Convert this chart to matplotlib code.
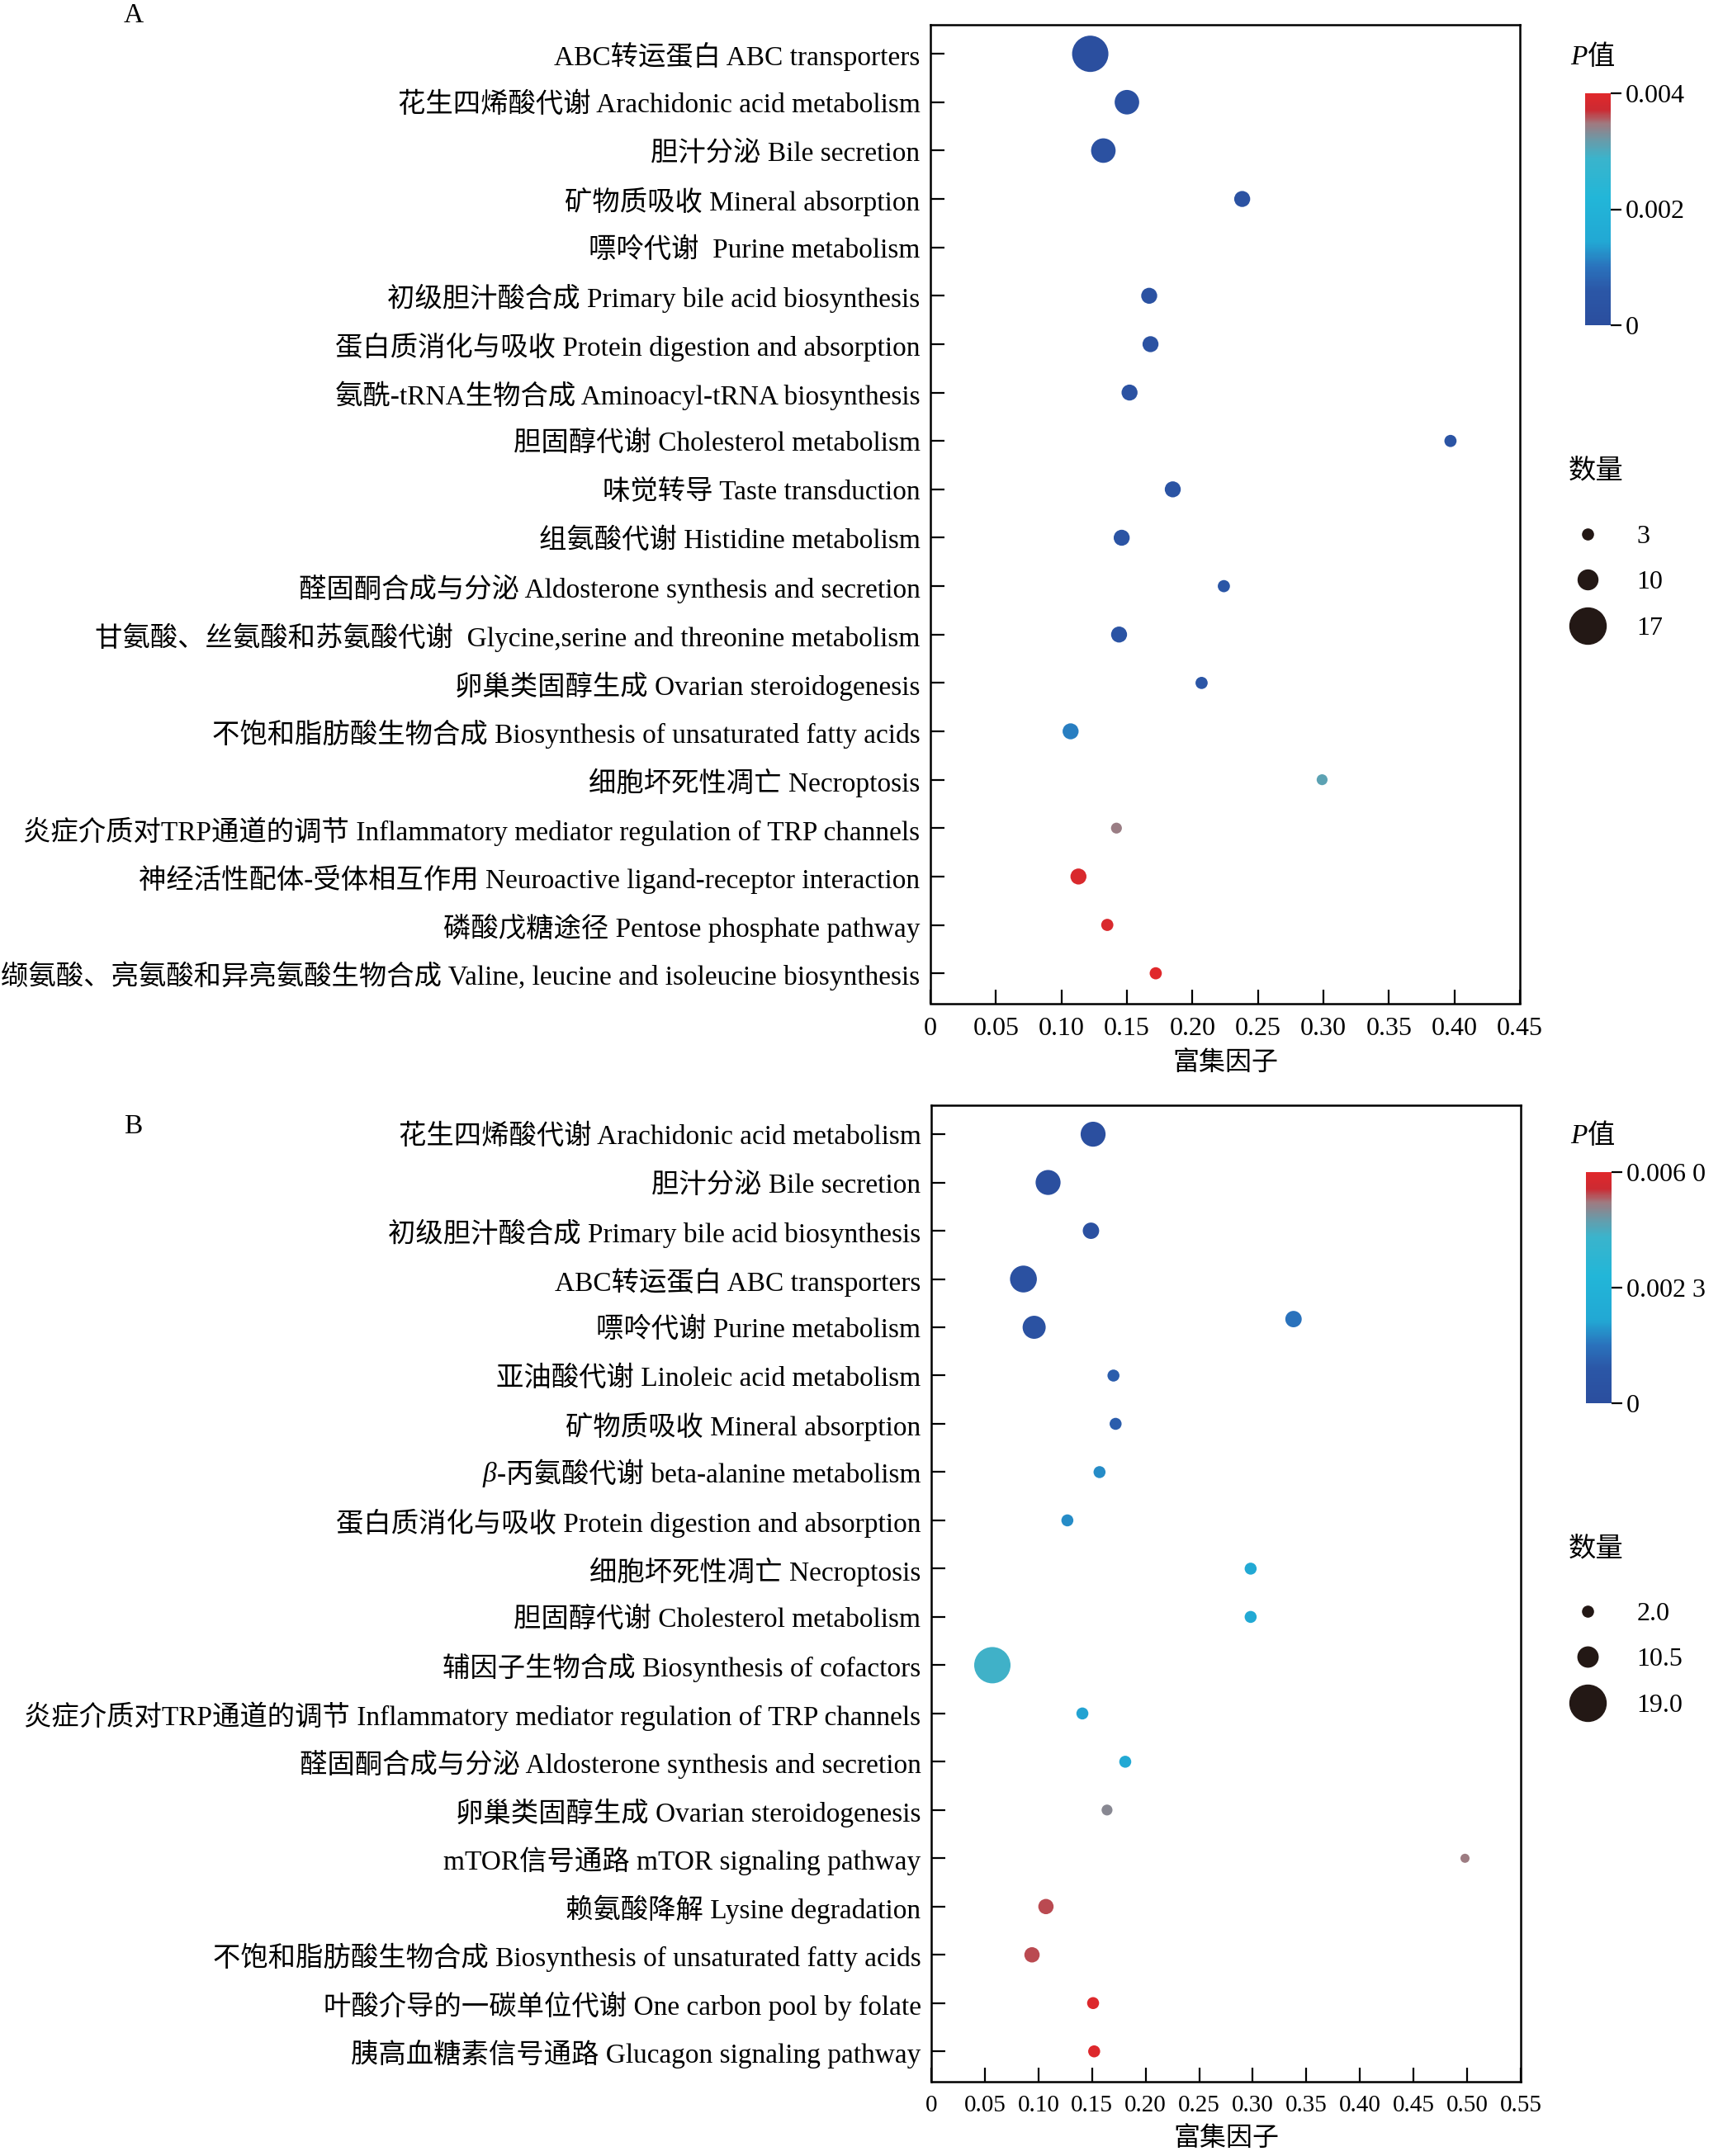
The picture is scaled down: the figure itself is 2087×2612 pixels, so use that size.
import numpy as np
import matplotlib
matplotlib.use('Agg')
import matplotlib.pyplot as plt
from matplotlib.colors import LinearSegmentedColormap, Normalize, TwoSlopeNorm
from matplotlib.lines import Line2D
from matplotlib.transforms import IdentityTransform

plt.rcParams['font.family'] = ['Liberation Serif', 'Noto Sans CJK SC']

# ---- panel A ----
a_terms = ['ABC转运蛋白 ABC transporters',
           '花生四烯酸代谢 Arachidonic acid metabolism',
           '胆汁分泌 Bile secretion',
           '矿物质吸收 Mineral absorption',
           '嘌呤代谢  Purine metabolism',
           '初级胆汁酸合成 Primary bile acid biosynthesis',
           '蛋白质消化与吸收 Protein digestion and absorption',
           '氨酰-tRNA生物合成 Aminoacyl-tRNA biosynthesis',
           '胆固醇代谢 Cholesterol metabolism',
           '味觉转导 Taste transduction',
           '组氨酸代谢 Histidine metabolism',
           '醛固酮合成与分泌 Aldosterone synthesis and secretion',
           '甘氨酸、丝氨酸和苏氨酸代谢  Glycine,serine and threonine metabolism',
           '卵巢类固醇生成 Ovarian steroidogenesis',
           '不饱和脂肪酸生物合成 Biosynthesis of unsaturated fatty acids',
           '细胞坏死性凋亡 Necroptosis',
           '炎症介质对TRP通道的调节 Inflammatory mediator regulation of TRP channels',
           '神经活性配体-受体相互作用 Neuroactive ligand-receptor interaction',
           '磷酸戊糖途径 Pentose phosphate pathway',
           '缬氨酸、亮氨酸和异亮氨酸生物合成 Valine, leucine and isoleucine biosynthesis']
a_row = list(range(20))
a_rich = [0.122, 0.150, 0.132, 0.238, np.nan, 0.167, 0.168, 0.152, 0.397, 0.185,
          0.146, 0.224, 0.144, 0.207, 0.107, 0.299, 0.142, 0.113, 0.135, 0.172]
a_count = [17, 12, 12, 7, np.nan, 7, 7, 7, 4, 7, 7, 4, 7, 4, 7, 3, 3, 7, 4, 4]
a_p = [0.0001, 0.0002, 0.0002, 0.0003, np.nan, 0.0003, 0.0003, 0.0003, 0.0004, 0.0004,
       0.0004, 0.0005, 0.0004, 0.0005, 0.0011, 0.0031, 0.00345, 0.0039, 0.0039, 0.0040]
a_size_breaks = [3, 10, 17]
a_size_scale_n = [1, 3, 10, 17]
a_size_scale_px = [10, 13.2, 24, 44]
a_xticks = [0, 0.05, 0.10, 0.15, 0.20, 0.25, 0.30, 0.35, 0.40, 0.45]
a_cticks = [0, 0.002, 0.004]
a_clabels = ['0', '0.002', '0.004']

# ---- panel B ----
b_terms = ['花生四烯酸代谢 Arachidonic acid metabolism',
           '胆汁分泌 Bile secretion',
           '初级胆汁酸合成 Primary bile acid biosynthesis',
           'ABC转运蛋白 ABC transporters',
           '嘌呤代谢 Purine metabolism',
           '亚油酸代谢 Linoleic acid metabolism',
           '矿物质吸收 Mineral absorption',
           '-丙氨酸代谢 beta-alanine metabolism',   # italic β is added in front
           '蛋白质消化与吸收 Protein digestion and absorption',
           '细胞坏死性凋亡 Necroptosis',
           '胆固醇代谢 Cholesterol metabolism',
           '辅因子生物合成 Biosynthesis of cofactors',
           '炎症介质对TRP通道的调节 Inflammatory mediator regulation of TRP channels',
           '醛固酮合成与分泌 Aldosterone synthesis and secretion',
           '卵巢类固醇生成 Ovarian steroidogenesis',
           'mTOR信号通路 mTOR signaling pathway',
           '赖氨酸降解 Lysine degradation',
           '不饱和脂肪酸生物合成 Biosynthesis of unsaturated fatty acids',
           '叶酸介导的一碳单位代谢 One carbon pool by folate',
           '胰高血糖素信号通路 Glucagon signaling pathway']
# one extra point sits just above the Purine row
b_row = [0, 1, 2, 3, 4, 3.83, 5, 6, 7, 8, 9, 10, 11, 12, 13, 14, 15, 16, 17, 18, 19]
b_rich = [0.151, 0.109, 0.149, 0.086, 0.096, 0.338, 0.170, 0.172, 0.157, 0.127, 0.298,
          0.298, 0.057, 0.141, 0.181, 0.164, 0.498, 0.107, 0.094, 0.151, 0.152]
b_count = [13, 13, 7, 14, 12, 7, 3, 3, 3, 3, 3, 3, 19, 3, 3, 2, 1, 6, 6, 3, 3]
b_p = [0.0001, 0.0001, 0.0002, 0.0002, 0.0003, 0.00115, 0.0008, 0.0008, 0.0014, 0.0014,
       0.0017, 0.0017, 0.0040, 0.0016, 0.0017, 0.0048, 0.0050, 0.0053, 0.0053, 0.0059, 0.0059]
b_size_breaks = [2.0, 10.5, 19.0]
b_size_scale_n = [1, 2, 10.5, 19]
b_size_scale_px = [11, 13.2, 24.5, 44]
b_xticks = [0, 0.05, 0.10, 0.15, 0.20, 0.25, 0.30, 0.35, 0.40, 0.45, 0.50, 0.55]
b_cticks = [0, 0.0023, 0.0060]
b_clabels = ['0', '0.002 3', '0.006 0']

cmap = LinearSegmentedColormap.from_list('pcol', [
    (0.00, '#2B4E9E'), (0.15, '#2B57A7'), (0.25, '#2A72BC'), (0.36, '#22A8D4'),
    (0.55, '#22B6D8'), (0.72, '#3AB4CC'), (0.80, '#6A9AA8'), (0.87, '#A07A80'),
    (0.93, '#CC2A32'), (1.00, '#E0282B')])

W, H = 2087, 2612
fig = plt.figure(figsize=(W / 100, H / 100), dpi=100)


def fx(px):
    return px / W


def fy(py):
    return 1 - py / H


def diam(count, sn, spx):
    return np.interp(count, sn, spx) * 0.72  # px -> pt


def panel(ax_box, cb_box, terms, rows, rich, count, p, norm, sn, spx, breaks,
          xticks, xmax, tick_fs, cticks, clabels, letter, letter_y, ptitle_y,
          leg_title_y, leg_y):
    ax = fig.add_axes(ax_box)
    d = diam(np.asarray(count, float), sn, spx)
    ax.scatter(rich, rows, s=d ** 2, c=p, cmap=cmap, norm=norm,
               edgecolors='none', zorder=3)
    ax.set_xlim(0, xmax)
    ax.set_ylim(19.62, -0.6)
    ax.set_yticks(range(len(terms)))
    ax.set_yticklabels(terms, fontsize=24)
    ax.set_xticks(xticks)
    ax.set_xticklabels(['0'] + ['%.2f' % v for v in xticks[1:]], fontsize=tick_fs)
    ax.tick_params(axis='both', direction='in', length=12, width=1.6)
    ax.tick_params(axis='y', pad=9)
    ax.tick_params(axis='x', pad=12)
    for sp in ax.spines.values():
        sp.set_linewidth(1.8)
    ax.set_xlabel('富集因子', fontsize=23, labelpad=9)

    cax = fig.add_axes(cb_box)
    cb = fig.colorbar(plt.cm.ScalarMappable(norm=norm, cmap=cmap), cax=cax)
    cb.outline.set_visible(False)
    cb.set_ticks(cticks)
    cb.set_ticklabels(clabels)
    cax.tick_params(length=9, width=1.6, labelsize=23, pad=4)
    cax.minorticks_off()

    fig.text(fx(150), letter_y, letter, fontsize=24, ha='left', va='center')
    fig.text(fx(1902), ptitle_y, 'P', fontsize=24, style='italic',
             ha='left', va='center')
    fig.text(fx(1923), ptitle_y, '值', fontsize=24, ha='left', va='center')
    fig.text(fx(1900), leg_title_y, '数量', fontsize=24, ha='left', va='center')

    handles = [Line2D([], [], ls='none', marker='o', color='#231815',
                      markersize=diam(b, sn, spx)) for b in breaks]
    labels = [('%g' % b) if letter == 'A' else ('%.1f' % b) for b in breaks]
    fig.legend(handles, labels, loc='upper left',
               bbox_to_anchor=(fx(1880), leg_y), frameon=False,
               fontsize=23, labelspacing=0.82,
               handlelength=1.3, handletextpad=1.2, borderpad=0.2)
    return ax


ax_a = panel([fx(1127), fy(1215.5), fx(1841) - fx(1127), (1215.5 - 30) / H],
             [fx(1920), fy(394), fx(31), 281 / H],
             a_terms, a_row, a_rich, a_count, a_p, Normalize(0, 0.004),
             a_size_scale_n, a_size_scale_px, a_size_breaks,
             a_xticks, 0.45, 23, a_cticks, a_clabels, 'A', fy(19), fy(70),
             fy(571), fy(613))

ax_b = panel([fx(1128), fy(2521.5), fx(1842) - fx(1128), (2521.5 - 1339) / H],
             [fx(1921), fy(1700), fx(31), 280 / H],
             b_terms, b_row, b_rich, b_count, b_p,
             TwoSlopeNorm(vcenter=0.0023, vmin=0, vmax=0.0060),
             b_size_scale_n, b_size_scale_px, b_size_breaks,
             b_xticks, 0.55, 21, b_cticks, b_clabels, 'B', fy(1365), fy(1377),
             fy(1877), fy(1918))

# italic beta in front of the beta-alanine label
fig.canvas.draw()
lab = ax_b.get_yticklabels()[7]
bb = lab.get_window_extent()
ypix = lab.get_transform().transform(lab.get_position())[1]
fig.text(bb.x0 - 1, ypix, 'β', fontsize=24, style='italic', ha='right',
         va='center_baseline', transform=IdentityTransform())

fig.savefig('out.png', dpi=100)
